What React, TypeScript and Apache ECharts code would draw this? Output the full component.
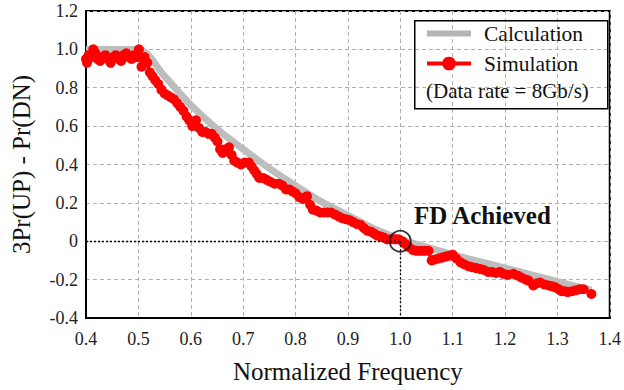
import React, { useEffect, useRef } from "react";
import * as echarts from "echarts";

const calcX = [0.4, 0.5, 0.55, 0.6, 0.65, 0.7, 0.75, 0.8, 0.85, 0.9, 0.95, 1.0, 1.05, 1.1, 1.15, 1.2, 1.25, 1.3, 1.365];
const calcY = [1.0, 1.0, 0.86, 0.71, 0.585, 0.48, 0.38, 0.29, 0.205, 0.135, 0.065, 0.01, -0.03, -0.07, -0.105, -0.14, -0.175, -0.21, -0.255];

const simX = [
  0.400, 0.402, 0.405, 0.410, 0.414, 0.418, 0.422, 0.427, 0.432, 0.437, 0.442, 0.447, 0.452, 0.457, 0.462, 0.467, 0.472, 0.477, 0.482, 0.487,
  0.492, 0.497, 0.501, 0.506, 0.512, 0.517, 0.522, 0.527, 0.532, 0.538, 0.544, 0.550, 0.556, 0.562, 0.568, 0.574, 0.580, 0.586, 0.592, 0.597,
  0.603, 0.610, 0.616, 0.622, 0.628, 0.634, 0.640, 0.646, 0.651, 0.656, 0.661, 0.667, 0.673, 0.678, 0.683, 0.689, 0.696, 0.703, 0.711, 0.716,
  0.721, 0.726, 0.731, 0.738, 0.745, 0.752, 0.760, 0.768, 0.775, 0.782, 0.788, 0.794, 0.800, 0.807, 0.814, 0.822, 0.828, 0.833, 0.840, 0.847,
  0.854, 0.861, 0.868, 0.875, 0.882, 0.889, 0.896, 0.903, 0.910, 0.917, 0.924, 0.930, 0.937, 0.944, 0.950, 0.956, 0.962, 0.968, 0.975, 0.982,
  0.990, 0.997, 1.004, 1.010, 1.016, 1.024, 1.031, 1.038, 1.046, 1.054, 1.060, 1.066, 1.073, 1.080, 1.087, 1.094, 1.100, 1.107, 1.115, 1.122,
  1.130, 1.137, 1.145, 1.153, 1.160, 1.168, 1.175, 1.183, 1.190, 1.197, 1.205, 1.216, 1.225, 1.232, 1.240, 1.245, 1.254, 1.260, 1.267, 1.275,
  1.283, 1.290, 1.296, 1.303, 1.308, 1.314, 1.320, 1.328, 1.336, 1.343, 1.350, 1.365,
];
const simY = [
  0.95, 0.93, 0.97, 0.96, 1.00, 0.98, 0.95, 0.94, 0.96, 0.97, 0.95, 0.93, 0.96, 0.97, 0.95, 0.94, 0.97, 0.98, 0.96, 0.95,
  0.97, 0.96, 1.00, 0.91, 0.96, 0.93, 0.88, 0.86, 0.84, 0.82, 0.79, 0.77, 0.76, 0.75, 0.74, 0.72, 0.70, 0.68, 0.65, 0.63,
  0.60, 0.63, 0.59, 0.57, 0.57, 0.56, 0.56, 0.54, 0.52, 0.48, 0.46, 0.48, 0.49, 0.45, 0.42, 0.41, 0.40, 0.41, 0.41, 0.39,
  0.37, 0.35, 0.33, 0.33, 0.32, 0.31, 0.30, 0.30, 0.29, 0.27, 0.27, 0.26, 0.25, 0.23, 0.22, 0.235, 0.19, 0.165, 0.16, 0.15,
  0.15, 0.15, 0.15, 0.14, 0.13, 0.12, 0.115, 0.11, 0.10, 0.09, 0.085, 0.07, 0.055, 0.05, 0.04, 0.03, 0.025, 0.02, 0.01, 0.01,
  0.01, 0.01, 0.0, -0.015, -0.03, -0.045, -0.05, -0.05, -0.05, -0.05, -0.10, -0.095, -0.09, -0.085, -0.08, -0.075, -0.07, -0.09, -0.11, -0.12,
  -0.13, -0.135, -0.14, -0.145, -0.15, -0.16, -0.16, -0.165, -0.16, -0.17, -0.175, -0.17, -0.18, -0.19, -0.20, -0.205, -0.23, -0.22, -0.215, -0.225,
  -0.23, -0.235, -0.24, -0.25, -0.26, -0.26, -0.265, -0.26, -0.255, -0.25, -0.25, -0.275,
];

const fdPoint = [1.0, 0];
const xMin = 0.4, xMax = 1.4, xStep = 0.1;
const yMin = -0.4, yMax = 1.2, yStep = 0.2;

const FONT = "'Liberation Serif', 'Times New Roman', serif";

export default function App() {
  const ref = useRef<HTMLDivElement>(null);
  useEffect(() => {
    if (!ref.current) return;
    const chart = echarts.init(ref.current, undefined, { renderer: "svg" });
    chart.setOption({
      animation: false,
      backgroundColor: "#ffffff",
      grid: { left: 86, top: 11, right: 13, bottom: 72, show: true, borderColor: "#000", borderWidth: 2, backgroundColor: "transparent" },
      xAxis: {
        type: "value", min: xMin, max: xMax, interval: xStep,
        name: "Normalized Frequency", nameLocation: "middle", nameGap: 41,
        nameTextStyle: { fontFamily: FONT, fontSize: 25, color: "#111" },
        axisLine: { show: true, onZero: false, lineStyle: { color: "#000", width: 2 } },
        axisTick: { show: false },
        axisLabel: { fontFamily: FONT, fontSize: 18, color: "#222", margin: 12, formatter: (v: number) => v.toFixed(1) },
        splitLine: { show: true, lineStyle: { color: "#b0b0b0", type: [4, 3], width: 1 } },
      },
      yAxis: {
        type: "value", min: yMin, max: yMax, interval: yStep,
        name: "3Pr(UP) - Pr(DN)", nameLocation: "middle", nameGap: 52,
        nameTextStyle: { fontFamily: FONT, fontSize: 25, color: "#111" },
        axisLine: { show: true, onZero: false, lineStyle: { color: "#000", width: 2 } },
        axisTick: { show: false },
        axisLabel: { fontFamily: FONT, fontSize: 18, color: "#222", margin: 8, formatter: (v: number) => (Math.abs(v) < 1e-9 ? "0" : v.toFixed(1)) },
        splitLine: { show: true, lineStyle: { color: "#b0b0b0", type: [4, 3], width: 1 } },
      },
      legend: {
        orient: "vertical", left: 419, top: 17, padding: 5, itemWidth: 44, itemHeight: 17, itemGap: 7,
        textStyle: { fontFamily: FONT, fontSize: 21.5, color: "#111", lineHeight: 23, padding: [0, 0, 0, 8] },
        data: [
          { name: "Calculation", itemStyle: { opacity: 0 }, lineStyle: { width: 6, color: "#b5b5b5" } },
          { name: "Simulation", lineStyle: { width: 4, color: "#ff0000" } },
        ],
      },
      graphic: [
        { type: "rect", left: 414, top: 20, shape: { width: 193, height: 88 }, style: { fill: "rgba(255,255,255,0)", stroke: "#000", lineWidth: 1.5 }, z: 10 },
        { type: "text", left: 426, top: 80, style: { text: "(Data rate = 8Gb/s)", font: `21px ${FONT}`, fill: "#111" }, z: 10 },
        { type: "text", left: 414, top: 203, style: { text: "FD Achieved", font: `bold 25px ${FONT}`, fill: "#111" }, z: 10 },
      ],
      series: [
        {
          name: "Calculation", type: "line", data: calcX.map((x, i) => [x, calcY[i]]),
          showSymbol: false, symbol: "none", smooth: 0.3,
          lineStyle: { color: "#bdbdbd", width: 7 }, itemStyle: { color: "#bdbdbd" }, z: 2,
          markLine: {
            silent: true, symbol: "none", label: { show: false },
            lineStyle: { color: "#000", type: [2, 2], width: 1.3 },
            data: [
              [{ coord: [xMin, fdPoint[1]] }, { coord: [fdPoint[0], fdPoint[1]] }],
              [{ coord: [fdPoint[0], fdPoint[1]] }, { coord: [fdPoint[0], yMin] }],
            ],
          },
        },
        {
          name: "Simulation", type: "line", data: simX.map((x, i) => [x, simY[i]]),
          symbol: "circle", symbolSize: 10, showAllSymbol: true,
          lineStyle: { color: "#ff0000", width: 3 }, itemStyle: { color: "#ff0000" }, z: 3,
        },
        {
          name: "FD", type: "scatter", data: [fdPoint], symbol: "circle", symbolSize: 21,
          itemStyle: { color: "rgba(0,0,0,0)", borderColor: "#000", borderWidth: 1.8 }, z: 5, silent: true,
        },
      ],
    });
    return () => chart.dispose();
  }, []);
  return <div ref={ref} style={{ width: 624, height: 390, position: "absolute", left: 0, top: 0 }} />;
}
